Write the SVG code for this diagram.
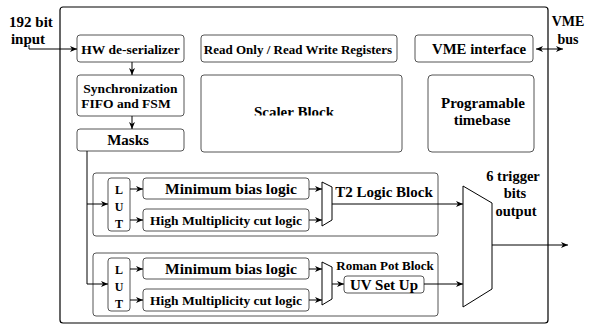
<svg xmlns="http://www.w3.org/2000/svg" width="592" height="329" viewBox="0 0 592 329">
<style>
.box{fill:#fff;stroke:#555;stroke-width:1}
.main{fill:#fff;stroke:#000;stroke-width:1.2}
.mux{fill:#fff;stroke:#000;stroke-width:1}
.ln{fill:none;stroke:#000;stroke-width:1}
.t{font-family:"Liberation Serif","Times New Roman",serif;font-weight:bold;fill:#000;text-anchor:middle}
</style>
<defs>
<marker id="ah" markerUnits="userSpaceOnUse" markerWidth="8" markerHeight="6" refX="7" refY="3" orient="auto-start-reverse">
<path d="M0,0 L7,3 L0,6 L2,3 z" fill="#000"/>
</marker>
<clipPath id="scclip"><rect x="200" y="70" width="210" height="45.5"/></clipPath>
</defs>
<rect class="main" x="60" y="7" width="488" height="316" rx="3"/>
<g id="input-label"><text class="t" x="31" y="27" font-size="15">192 bit</text><text class="t" x="28" y="44" font-size="15">input</text></g>
<g id="vme-bus-label"><text class="t" x="568" y="26" font-size="14">VME</text><text class="t" x="568" y="44" font-size="14">bus</text></g>
<g id="hw"><rect class="box" x="77" y="35" width="107" height="27" rx="3"/><text class="t" x="130.5" y="54" font-size="13.5">HW de-serializer</text></g>
<g id="sync"><rect class="box" x="77" y="75" width="107" height="41" rx="3"/><text class="t" x="130.5" y="93" font-size="13.5">Synchronization</text><text class="t" x="126" y="108" font-size="13.5">FIFO and FSM</text></g>
<g id="masks"><rect class="box" x="77" y="129" width="107" height="22" rx="3"/><text class="t" x="128" y="145" font-size="15">Masks</text></g>
<g id="regs"><rect class="box" x="201" y="35" width="196" height="27" rx="3"/><text class="t" x="298" y="54" font-size="13">Read Only / Read Write Registers</text></g>
<g id="scaler"><rect class="box" x="201" y="75" width="201" height="77" rx="3"/><text class="t" x="294" y="116.5" font-size="15" clip-path="url(#scclip)">Scaler Block</text></g>
<g id="vme"><rect class="box" x="415" y="35" width="118" height="27" rx="3"/><text class="t" x="479" y="54" font-size="14.8">VME interface</text></g>
<g id="timebase"><rect class="box" x="428" y="75" width="106" height="77" rx="4"/><text class="t" x="483" y="108" font-size="15">Programable</text><text class="t" x="482" y="125" font-size="15">timebase</text></g>
<g id="t2block">
<rect class="box" x="93" y="173" width="345" height="63" rx="3"/>
<rect class="box" x="108" y="178" width="22" height="53" rx="3"/>
<text class="t" x="119" y="194" font-size="12">L</text><text class="t" x="119" y="211" font-size="12">U</text><text class="t" x="119" y="228" font-size="12">T</text>
<rect class="box" x="143" y="178" width="166" height="21" rx="3"/><text class="t" x="231" y="194" font-size="15.5">Minimum bias logic</text>
<rect class="box" x="143" y="209" width="166" height="22" rx="3"/><text class="t" x="226" y="225" font-size="13.5">High Multiplicity cut logic</text>
<path class="mux" d="M322,182 L332,187 L332,220 L322,226 Z"/>
<text class="t" x="384" y="197" font-size="15">T2 Logic Block</text>
</g>
<g id="rpblock">
<rect class="box" x="93" y="253" width="345" height="63" rx="3"/>
<rect class="box" x="108" y="258" width="22" height="53" rx="3"/>
<text class="t" x="119" y="274" font-size="12">L</text><text class="t" x="119" y="291" font-size="12">U</text><text class="t" x="119" y="308" font-size="12">T</text>
<rect class="box" x="143" y="258" width="166" height="21" rx="3"/><text class="t" x="231" y="274" font-size="15.5">Minimum bias logic</text>
<rect class="box" x="143" y="289" width="166" height="22" rx="3"/><text class="t" x="226" y="305" font-size="13.5">High Multiplicity cut logic</text>
<path class="mux" d="M322,262 L332,267 L332,299 L322,305 Z"/>
<text class="t" x="385" y="270" font-size="13">Roman Pot Block</text>
<rect class="box" x="344" y="276" width="80" height="17" rx="3"/><text class="t" x="384" y="290" font-size="15">UV Set Up</text>
</g>
<g id="outmux"><path class="mux" d="M463,186 L492,203 L492,289 L463,307 Z"/></g>
<g id="outlabel"><text class="t" x="513" y="181" font-size="14.5">6 trigger</text><text class="t" x="515" y="198" font-size="14.5">bits</text><text class="t" x="516" y="216" font-size="14.5">output</text></g>
<g id="connectors">
<path class="ln" d="M29,45 V49 H77" marker-end="url(#ah)"/>
<path class="ln" d="M132,62 V75" marker-end="url(#ah)"/>
<path class="ln" d="M132,116 V129" marker-end="url(#ah)"/>
<path class="ln" d="M536,49 H563" marker-start="url(#ah)" marker-end="url(#ah)"/>
<path class="ln" d="M87,151 V284 H108" marker-end="url(#ah)"/>
<path class="ln" d="M87,204 H108" marker-end="url(#ah)"/>
<path class="ln" d="M130,189 H143" marker-end="url(#ah)"/>
<path class="ln" d="M130,220 H143" marker-end="url(#ah)"/>
<path class="ln" d="M309,189 H322" marker-end="url(#ah)"/>
<path class="ln" d="M309,220 H322" marker-end="url(#ah)"/>
<path class="ln" d="M130,269 H143" marker-end="url(#ah)"/>
<path class="ln" d="M130,300 H143" marker-end="url(#ah)"/>
<path class="ln" d="M309,269 H322" marker-end="url(#ah)"/>
<path class="ln" d="M309,300 H322" marker-end="url(#ah)"/>
<path class="ln" d="M332,284 H344" marker-end="url(#ah)"/>
<path class="ln" d="M332,204 H463" marker-end="url(#ah)"/>
<path class="ln" d="M424,284 H463" marker-end="url(#ah)"/>
<path class="ln" d="M492,245 H568" marker-end="url(#ah)"/>
</g>
</svg>
